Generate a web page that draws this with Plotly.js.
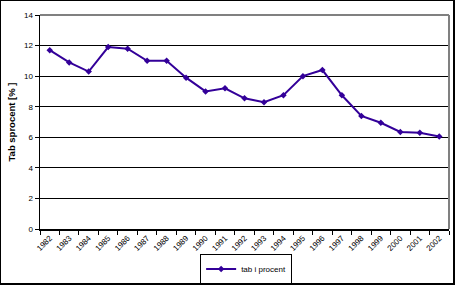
<!DOCTYPE html>
<html><head><meta charset="utf-8">
<script src="https://cdn.plot.ly/plotly-3.0.1.min.js"></script>
<style>html,body{margin:0;padding:0;background:#fff}#wrap{position:relative;width:457px;height:287px}
#frame{position:absolute;left:0;top:0;width:452px;height:282px;border-left:1px solid #000;border-top:1px solid #000;border-right:2px solid #000;border-bottom:2px solid #000;pointer-events:none}</style>
</head><body>
<div id="wrap"><div id="chart" style="width:457px;height:287px"></div><div id="frame"></div></div>
<script>
const years = ['1982','1983','1984','1985','1986','1987','1988','1989','1990','1991','1992','1993','1994','1995','1996','1997','1998','1999','2000','2001','2002'];
const values = [11.7,10.9,10.3,11.9,11.8,11.0,11.0,9.9,9.0,9.2,8.55,8.3,8.75,10.0,10.4,8.75,7.4,6.95,6.35,6.3,6.05];
const seriesName = 'tab i procent';
const yTicks = [0,2,4,6,8,10,12,14];

Plotly.newPlot('chart', [{
  x: years, y: values, name: seriesName, type: 'scatter', mode: 'lines+markers',
  line: {color: '#330099', width: 2},
  marker: {color: '#330099', size: 5, symbol: 'diamond'}
}], {
  width: 457, height: 287,
  margin: {l: 40, r: 8, t: 15, b: 58, autoexpand: false},
  paper_bgcolor: '#fff', plot_bgcolor: '#fff',
  font: {family: 'Arial, Liberation Sans, sans-serif', size: 8, color: '#000'},
  showlegend: true,
  legend: {orientation: 'h', x: 0.504, xanchor: 'center', y: -0.115, yanchor: 'top',
    bordercolor: '#000', borderwidth: 1, font: {size: 8}, itemwidth: 30, tracegroupgap: 0},
  xaxis: {type: 'category', range: [-0.5, 20.5], tickangle: -45, tickson: 'boundaries',
    ticks: 'outside', ticklen: 4, tickcolor: '#000', showgrid: false, automargin: false,
    showline: true, linecolor: '#000', linewidth: 1.5,
    tickfont: {size: 8}, fixedrange: true},
  yaxis: {range: [0, 14], tickvals: yTicks, ticks: 'outside', ticklen: 4, tickcolor: '#000',
    showgrid: true, gridcolor: '#000', gridwidth: 1, zeroline: false, automargin: false,
    showline: true, linecolor: '#000', linewidth: 1.5,
    title: {text: 'Tab sprocent [% ]', font: {size: 9.5, family: 'Arial, Liberation Sans, sans-serif', weight: 'bold'}, standoff: 6},
    tickfont: {size: 8}, fixedrange: true},
  shapes: [
    {type: 'line', xref: 'paper', yref: 'paper', x0: 0, x1: 1, y0: 1, y1: 1, line: {color: '#808080', width: 2}},
    {type: 'line', xref: 'paper', yref: 'paper', x0: 1, x1: 1, y0: 0, y1: 1, line: {color: '#808080', width: 2}}
  ]
}, {staticPlot: true});
</script>
</body></html>
